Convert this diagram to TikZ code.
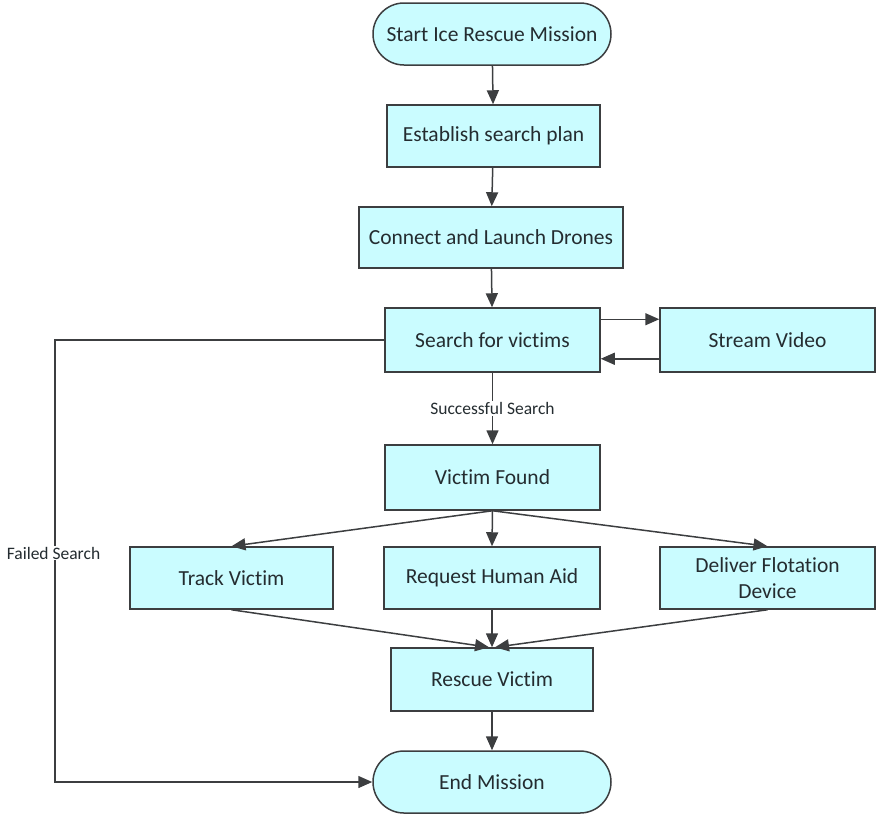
\documentclass[tikz,border=0pt]{standalone}
\usepackage{fontspec}
\setmainfont{Carlito}[Ligatures=NoCommon]
\usetikzlibrary{arrows.meta,positioning}
\definecolor{boxfill}{RGB}{202,252,255}
\definecolor{boxline}{RGB}{60,62,64}
\definecolor{txt}{RGB}{36,44,48}
\tikzset{
  box/.style={draw=boxline, line width=1.5pt, fill=boxfill, text=txt,
    font=\fontsize{21.5}{26.5}\selectfont, align=center, inner sep=0pt},
  stepbox/.style={box, rectangle},
  terminal/.style={box, rectangle, rounded corners=31pt},
  arr/.style={draw=boxline, line width=1.5pt,
    -{Triangle[length=14pt,width=12pt]}},
  lbl/.style={fill=white, text=txt, inner sep=1pt,
    font=\fontsize{17.5}{20}\selectfont}
}
\begin{document}
\begin{tikzpicture}[x=1pt,y=-1pt]
\useasboundingbox (0,0) rectangle (877,814);

% process chain
\node[terminal, minimum width=238pt, minimum height=62pt] (start) at (492,34) {Start Ice Rescue Mission};
\node[stepbox, minimum width=213pt, minimum height=62pt] (plan) at (493.5,136) {Establish search plan};
\node[stepbox, minimum width=264pt, minimum height=61pt] (launch) at (491,237.5) {Connect and Launch Drones};
\node[stepbox, minimum width=215pt, minimum height=64pt] (search) at (492.5,340) {Search for victims};
\node[stepbox, minimum width=215pt, minimum height=64pt] (stream) at (767.5,340) {Stream Video};
\node[stepbox, minimum width=215pt, minimum height=65pt] (found) at (492.5,477.5) {Victim Found};
\node[stepbox, minimum width=203pt, minimum height=62pt] (track) at (231.5,578) {Track Victim};
\node[stepbox, minimum width=216pt, minimum height=62pt] (aid) at (492,578) {Request Human Aid};
\node[stepbox, minimum width=215pt, minimum height=62pt] (float) at (767.5,578) {Deliver Flotation\\Device};
\node[stepbox, minimum width=202pt, minimum height=63pt] (rescue) at (492,679.5) {Rescue Victim};
\node[terminal, minimum width=238pt, minimum height=62pt] (finish) at (492,782) {End Mission};

% connectors
\draw[arr] (start) -- (plan);
\draw[arr] (plan) -- (launch);
\draw[arr] (launch) -- (search);
\draw[arr] ([yshift=-12pt]search.north east) -- ([yshift=-12pt]stream.north west);
\draw[arr] ([yshift=14pt]stream.south west) -- ([yshift=14pt]search.south east);
\draw[arr] (search) -- node[lbl] {Successful Search} (found);
\draw[arr] (found.south) -- (track.north);
\draw[arr] (found.south) -- (aid.north);
\draw[arr] (found.south) -- (float.north);
\draw[arr] (track.south) -- ([xshift=-3pt]rescue.north);
\draw[arr] (aid.south) -- (rescue.north);
\draw[arr] (float.south) -- ([xshift=3pt]rescue.north);
\draw[arr] (rescue) -- (finish);

% failed-search return path
\coordinate (failcol) at (55,0);
\draw[arr] (search.west) -- (search.west -| failcol) |- (finish.west);
\node[lbl] (failed) at (53.5,553) {Failed Search};
\end{tikzpicture}
\end{document}
